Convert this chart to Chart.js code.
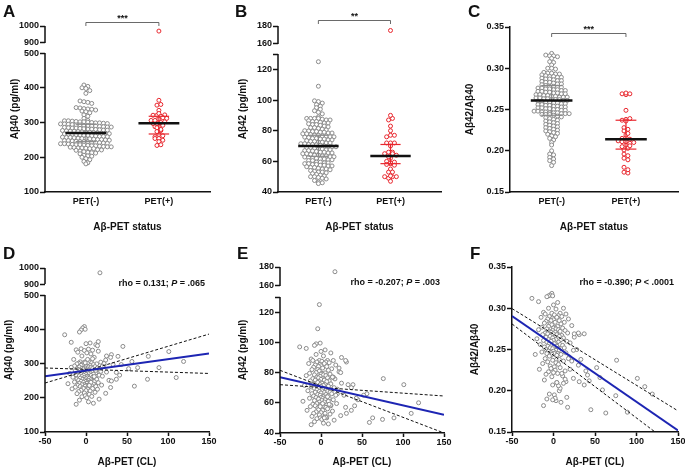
<!DOCTYPE html>
<html>
<head>
<meta charset="utf-8">
<script src="https://cdn.jsdelivr.net/npm/chart.js@4.4.1/dist/chart.umd.min.js"></script>
<style>
  body { margin: 0; background: #fff; width: 685px; height: 474px; position: relative; overflow: hidden; }
  canvas { position: absolute; }
</style>
</head>
<body>
<canvas id="cA" width="228" height="235" style="left:0;top:0"></canvas>
<canvas id="cB" width="227" height="235" style="left:228px;top:0"></canvas>
<canvas id="cC" width="230" height="235" style="left:455px;top:0"></canvas>
<canvas id="cD" width="228" height="239" style="left:0;top:235px"></canvas>
<canvas id="cE" width="227" height="239" style="left:228px;top:235px"></canvas>
<canvas id="cF" width="230" height="239" style="left:455px;top:235px"></canvas>
<script>
// ---- data ----
const groups = ['PET(-)', 'PET(+)'];

// Aβ-PET negative subjects
const negCL = [
  -2, -4, -1, -6, -8, -26, -18, 5, 0, 12,
  -6, 3, -12, 8, -2, 15, -10, 1, 6, -5,
  10, -15, 4, -1, -7, 18, 0, -3, 7, -9,
  2, 13, -11, -4, 9, -2, 22, -6, 5, 1,
  -14, 0, 11, -8, 3, -18, 6, -1, 14, -5,
  8, -3, 2, -10, 17, 0, -7, 4, -13, 10,
  -2, 7, -4, 25, 1, -9, 12, -1, 5, -20,
  3, -6, 9, 0, -12, 16, -3, 6, -8, 2,
  20, -5, 1, -16, 8, -2, 11, -7, 4, 0,
  -11, 13, -4, 6, -1, 28, -9, 3, 7, -6,
  0, 10, -14, 2, -3, 15, 5, -8, 1, -22,
  9, -2, 4, -5, 19, 0, -10, 7, -1, 12,
  -7, 3, -13, 6, 30, -4, 1, 8, -3, -17,
  2, 14, -6, 0, 5, -9, 11, -2, 24, -11,
  4, -1, 7, -5, 1, 16, -8, 3, 9, -12
];
const negAb40 = [
  408, 404, 400, 398, 392, 384, 362, 360, 358, 355,
  343, 342, 340, 339, 338, 336, 333, 331, 328, 322,
  318, 312, 306, 305, 305, 304, 303, 302, 302, 301,
  300, 299, 299, 298, 297, 296, 296, 295, 294, 293,
  293, 292, 291, 290, 290, 289, 288, 287, 287, 286,
  285, 284, 284, 283, 282, 281, 281, 280, 279, 278,
  278, 277, 276, 275, 275, 274, 273, 272, 272, 271,
  270, 269, 269, 268, 267, 266, 266, 265, 264, 263,
  263, 262, 261, 260, 260, 259, 258, 257, 257, 256,
  255, 254, 254, 253, 252, 251, 251, 250, 249, 248,
  248, 247, 246, 245, 245, 244, 243, 242, 242, 241,
  240, 239, 239, 238, 237, 236, 236, 235, 234, 233,
  233, 232, 231, 230, 230, 229, 228, 227, 227, 226,
  225, 225, 222, 221, 220, 218, 216, 214, 213, 212,
  210, 206, 204, 203, 200, 196, 193, 188, 184, 181
];
const negAb42 = [
  125, 109, 99.5, 99, 98, 97, 96, 95, 94, 93,
  92, 91, 89, 88, 88, 88, 88, 87.5, 87, 87,
  86.5, 86, 86, 85.5, 85, 85, 84.5, 84, 84, 83.5,
  83, 82.5, 82, 82, 81.5, 81, 80.5, 80, 79.8, 79.5,
  79.5, 79, 79, 78.5, 78.5, 78, 78, 77.5, 77, 77,
  76.5, 76.5, 76, 76, 75.8, 75.5, 75, 75, 74.5, 74.5,
  74, 74, 73.5, 73, 73, 72.5, 72.5, 72, 72, 71.5,
  71.5, 71, 71, 70.8, 70.5, 70, 70, 69.5, 69.5, 69,
  69, 68.5, 68, 68, 67.5, 67.5, 67, 67, 66.8, 66.5,
  66, 66, 65.5, 65.5, 65, 65, 64.5, 64, 64, 63.5,
  63.5, 63, 63, 62.8, 62.5, 62, 62, 61.5, 61.5, 61,
  61, 60.5, 60.5, 59.5, 59.5, 59, 59, 58.5, 58.5, 58,
  58, 57.5, 57.5, 57, 57, 56.5, 56, 56, 55.5, 55,
  55, 54.5, 54, 53.5, 53, 53, 52.5, 52, 51.5, 51,
  50.5, 50, 50, 49.5, 49, 48.5, 47.5, 46.5, 46, 45.5
];
const negRatio = [
  0.318, 0.316, 0.315, 0.315, 0.314, 0.312, 0.308, 0.307, 0.304, 0.300,
  0.300, 0.299, 0.295, 0.294, 0.294, 0.293, 0.293, 0.292, 0.291, 0.290,
  0.290, 0.289, 0.289, 0.288, 0.287, 0.287, 0.286, 0.285, 0.285, 0.284,
  0.283, 0.283, 0.282, 0.281, 0.281, 0.280, 0.279, 0.278, 0.278, 0.277,
  0.277, 0.276, 0.276, 0.275, 0.275, 0.274, 0.274, 0.273, 0.273, 0.272,
  0.272, 0.271, 0.271, 0.270, 0.270, 0.269, 0.269, 0.268, 0.268, 0.267,
  0.267, 0.266, 0.266, 0.265, 0.265, 0.265, 0.264, 0.264, 0.263, 0.263,
  0.262, 0.262, 0.262, 0.261, 0.261, 0.260, 0.260, 0.259, 0.259, 0.258,
  0.258, 0.257, 0.257, 0.256, 0.256, 0.255, 0.255, 0.254, 0.254, 0.253,
  0.253, 0.252, 0.252, 0.251, 0.251, 0.250, 0.250, 0.249, 0.249, 0.248,
  0.248, 0.247, 0.247, 0.246, 0.246, 0.246, 0.245, 0.245, 0.245, 0.244,
  0.244, 0.244, 0.243, 0.242, 0.241, 0.240, 0.239, 0.238, 0.237, 0.236,
  0.235, 0.234, 0.233, 0.232, 0.231, 0.230, 0.229, 0.228, 0.227, 0.226,
  0.225, 0.224, 0.223, 0.222, 0.221, 0.220, 0.218, 0.217, 0.215, 0.213,
  0.210, 0.207, 0.200, 0.196, 0.195, 0.192, 0.190, 0.188, 0.186, 0.182
];

// Aβ-PET positive subjects
const posCL = [17, 119, 110, 101, 89, 76, 75, 63, 59, 56, 52, 45, 43, 41, 39, 37, 37, 33, 31, 31,
  30, 25, 24, 22, 20, 18, 15, 14, 12, 10, 8, 6, 4, 2, -1];
const posAb40 = [970, 306, 259, 335, 288, 321, 254, 288, 234, 306, 285, 350, 297, 266, 321, 274, 254, 297, 326, 249,
  318, 322, 310, 300, 292, 277, 364, 352, 280, 262, 314, 245, 236, 312, 302];
const posAb42 = [175, 60, 53, 72, 50, 76, 49, 50, 47, 66, 65, 62, 63, 58, 72, 55, 70, 72, 87, 53,
  88, 90, 80, 83, 66, 65, 77, 77, 58.5, 59, 64, 50.5, 50, 59.5, 57.5];
const posRatio = [0.180, 0.196, 0.205, 0.215, 0.174, 0.237, 0.194, 0.173, 0.201, 0.216, 0.228, 0.177, 0.212, 0.219, 0.224, 0.207, 0.269, 0.238, 0.268, 0.211,
  0.270, 0.269, 0.249, 0.236, 0.226, 0.239, 0.211, 0.214, 0.209, 0.221, 0.203, 0.206, 0.210, 0.191, 0.189];

// centre line and error bar per group [PET(-), PET(+)]
const midAb40 = [270, 298], lowAb40 = [245, 267], highAb40 = [295, 318];
const midAb42 = [70, 63.5], lowAb42 = [63.3, 58.5], highAb42 = [77, 71];
const midRatio = [0.261, 0.214], lowRatio = [0.243, 0.202], highRatio = [0.279, 0.237];

// regression line and its 95% band, at CL = -50 and 150
const fitX = [-50, 150];
const fitAb40 = [263, 329], bandAb40a = [287, 271], bandAb40b = [243, 386];
const fitAb42 = [77, 52], bandAb42a = [81.5, 40], bandAb42b = [72, 64.5];
const fitRatio = [0.2906, 0.152], bandRatioA = [0.2996, 0.1756], bandRatioB = [0.281, 0.129];

const rhoAb40 = ['rho = 0.131; ', 'P', ' = .065'];
const rhoAb42 = ['rho = -0.207; ', 'P', ' = .003'];
const rhoRatio = ['rho = -0.390; ', 'P', ' < .0001'];

const ticksAb40 = [100, 200, 300, 400, 500, 900, 1000];
const ticksAb42 = [40, 60, 80, 100, 120, 130, 160, 180];
const ticksRatio = [0.15, 0.20, 0.25, 0.30, 0.35];
const ticksCL = [-50, 0, 50, 100, 150];

// ---- style ----
const INK = '#111', GRAY = '#8a8a8a', RED = '#e8262d', BLUE = '#1d25b3';
const FONT = '"Liberation Sans", Arial, Helvetica, sans-serif';
Chart.defaults.font.family = FONT;
Chart.defaults.font.weight = 'bold';
Chart.defaults.font.size = 9;
Chart.defaults.color = INK;

// broken y axes: lower part, upper part, and where they sit on the axis (0..1)
const breaks = {
  cA: { lo: [100, 500], hi: [900, 1000], split: [0.837, 0.898] },
  cB: { lo: [40, 130], hi: [160, 180], split: [0.831, 0.892] },
  cD: { lo: [100, 500], hi: [900, 1000], split: [0.835, 0.902] },
  cE: { lo: [40, 130], hi: [160, 180], split: [0.819, 0.886] }
};

class BrokenScale extends Chart.LinearScale {
  static id = 'broken';
  static defaults = Chart.LinearScale.defaults;
  getPixelForValue(v) {
    const b = breaks[this.chart.canvas.id];
    let d;
    if (v <= b.lo[1]) d = (v - b.lo[0]) / (b.lo[1] - b.lo[0]) * b.split[0];
    else if (v >= b.hi[0]) d = b.split[1] + (v - b.hi[0]) / (b.hi[1] - b.hi[0]) * (1 - b.split[1]);
    else d = b.split[0] + (v - b.lo[1]) / (b.hi[0] - b.lo[1]) * (b.split[1] - b.split[0]);
    return this.getPixelForDecimal(d);
  }
  getValueForPixel(p) {
    const b = breaks[this.chart.canvas.id];
    const d = this.getDecimalForPixel(p);
    if (d <= b.split[0]) return b.lo[0] + d / b.split[0] * (b.lo[1] - b.lo[0]);
    if (d >= b.split[1]) return b.hi[0] + (d - b.split[1]) / (1 - b.split[1]) * (b.hi[1] - b.hi[0]);
    return b.lo[1] + (d - b.split[0]) / (b.split[1] - b.split[0]) * (b.hi[0] - b.lo[1]);
  }
}
Chart.register(BrokenScale);

function seg(x0, y0, x1, y1, color, width, order, dash) {
  return {
    type: 'line', data: [{ x: x0, y: y0 }, { x: x1, y: y1 }],
    borderColor: color, borderWidth: width, borderDash: dash || [],
    pointRadius: 0, fill: false, order: order
  };
}

function dots(data, color) {
  return {
    type: 'scatter', data: data, order: 3,
    pointRadius: 2, pointHoverRadius: 2, borderWidth: 1,
    borderColor: color, backgroundColor: '#fff'
  };
}

function build(id, o) {
  const brk = breaks[id];
  const extras = {
    id: 'extras',
    afterDraw(chart) {
      const { ctx, chartArea: ca, scales: { x, y } } = chart;
      ctx.save();
      ctx.fillStyle = INK;
      ctx.strokeStyle = INK;
      ctx.textBaseline = 'alphabetic';
      ctx.textAlign = 'left';
      ctx.font = 'bold 17px ' + FONT;
      ctx.fillText(o.letter, o.letterAt[0], o.letterAt[1]);
      if (brk) {
        ctx.lineWidth = 1.5;
        ctx.beginPath();
        ctx.moveTo(ca.left, ca.bottom + 0.75);
        ctx.lineTo(ca.left, y.getPixelForValue(brk.lo[1]));
        ctx.moveTo(ca.left, y.getPixelForValue(brk.hi[0]));
        ctx.lineTo(ca.left, y.getPixelForValue(brk.hi[1]));
        ctx.stroke();
      }
      if (o.bracket) {
        const x1 = x.getPixelForValue(1), x2 = x.getPixelForValue(2);
        const py = Math.round(y.getPixelForValue(o.bracket[0])) + 0.5;
        ctx.lineWidth = 0.8;
        ctx.strokeStyle = '#444';
        ctx.beginPath();
        ctx.moveTo(x1, py + 3.5); ctx.lineTo(x1, py); ctx.lineTo(x2, py); ctx.lineTo(x2, py + 3.5);
        ctx.stroke();
        ctx.font = 'bold 9px ' + FONT;
        ctx.textAlign = 'center';
        ctx.fillText(o.bracket[1], (x1 + x2) / 2, py - 2);
      }
      if (o.rho) {
        const fonts = o.rho.map((t, i) => (i === 1 ? 'italic bold 9px ' : 'bold 9px ') + FONT);
        let w = 0;
        o.rho.forEach((t, i) => { ctx.font = fonts[i]; w += ctx.measureText(t).width; });
        let px = ca.right - 4 - w;
        ctx.textAlign = 'left';
        o.rho.forEach((t, i) => {
          ctx.font = fonts[i];
          ctx.fillText(t, px, ca.top + 18);
          px += ctx.measureText(t).width;
        });
      }
      ctx.restore();
    }
  };

  return new Chart(document.getElementById(id), {
    type: 'scatter',
    data: { datasets: o.datasets },
    options: {
      responsive: false,
      animation: false,
      layout: { padding: { top: o.pad[0], right: o.pad[1], bottom: 0, left: 0 } },
      scales: {
        x: {
          type: 'linear', min: o.x.min, max: o.x.max,
          afterBuildTicks: s => { s.ticks = o.x.ticks.map(v => ({ value: v })); },
          afterFit: s => { s.height = o.xH; s.paddingLeft = 0; s.paddingRight = 0; },
          ticks: { autoSkip: false, maxRotation: 0, padding: 0, callback: o.x.fmt, font: { size: 9, weight: 'bold' } },
          grid: { drawOnChartArea: false, tickLength: 4, tickWidth: 1.5, tickColor: o.x.tickColor },
          border: { display: true, width: 1.5, color: INK },
          title: { display: true, text: o.x.title, color: INK, font: { size: 10, weight: 'bold' }, padding: { top: 0, bottom: o.x.tp } }
        },
        y: {
          type: brk ? 'broken' : 'linear', min: o.y.min, max: o.y.max,
          afterBuildTicks: s => { s.ticks = o.y.ticks.map(v => ({ value: v })); },
          afterFit: s => { s.width = o.yW; },
          ticks: { autoSkip: false, padding: 1, callback: o.y.fmt, font: { size: 9, weight: 'bold' } },
          grid: { drawOnChartArea: false, tickLength: 5, tickWidth: 1.5, tickColor: INK },
          border: { display: !brk, width: 1.5, color: INK },
          title: { display: true, text: o.y.title, color: INK, font: { size: 10, weight: 'bold' }, padding: { top: o.y.tp, bottom: 0 } }
        }
      },
      plugins: { legend: { display: false }, tooltip: { enabled: false } }
    },
    plugins: [extras]
  });
}

// column scatter: points spread sideways in rows so they do not overlap
function swarmPanel(id, o, neg, pos, mid, low, high) {
  const datasets = [];
  [0, 1].forEach(g => {
    const c = g + 1, col = g ? RED : GRAY;
    datasets.push(seg(c - 0.28, mid[g], c + 0.28, mid[g], INK, 2.5, 0));
    datasets.push(seg(c, low[g], c, high[g], col, 1.2, 1));
    datasets.push(seg(c - 0.14, low[g], c + 0.14, low[g], col, 1.2, 1));
    datasets.push(seg(c - 0.14, high[g], c + 0.14, high[g], col, 1.2, 1));
  });
  const sets = [neg, pos].map((vals, g) => {
    const d = dots(vals.map(v => ({ x: g + 1, y: v })), g ? RED : GRAY);
    datasets.push(d);
    return d;
  });
  o.datasets = datasets;
  o.x = {
    min: 0.44, max: 2.70, ticks: [1, 2], fmt: v => groups[v - 1] || '',
    title: 'Aβ-PET status', tp: 2, tickColor: 'rgba(0,0,0,0)'
  };
  o.xH = 43;
  const chart = build(id, o);
  const xs = chart.scales.x, ys = chart.scales.y;
  const ROW = 3.3, COL = 3.9;
  sets.forEach((d, g) => {
    const cx = xs.getPixelForValue(g + 1);
    const rows = new Map();
    d.data.forEach(p => {
      const r = Math.round(ys.getPixelForValue(p.y) / ROW);
      if (!rows.has(r)) rows.set(r, []);
      rows.get(r).push(p);
    });
    rows.forEach(pts => pts.forEach((p, k) => {
      p.x = xs.getValueForPixel(cx + (k - (pts.length - 1) / 2) * COL);
    }));
  });
  chart.update('none');
}

function scatterPanel(id, o, negY, posY, fit, bandA, bandB) {
  const pts = negCL.map((c, i) => ({ x: c, y: negY[i] }))
    .concat(posCL.map((c, i) => ({ x: c, y: posY[i] })));
  o.datasets = [
    seg(fitX[0], fit[0], fitX[1], fit[1], BLUE, 2, 0),
    seg(fitX[0], bandA[0], fitX[1], bandA[1], INK, 1, 1, [3, 2]),
    seg(fitX[0], bandB[0], fitX[1], bandB[1], INK, 1, 1, [3, 2]),
    dots(pts, GRAY)
  ];
  o.x = { min: -50, max: 150, ticks: ticksCL, fmt: v => String(v), title: 'Aβ-PET (CL)', tp: 6, tickColor: INK };
  build(id, o);
}

const fmtInt = v => String(v);
const fmtAb42 = v => (v === 130 ? '' : String(v));
const fmtRatio = v => v.toFixed(2);

swarmPanel('cA', {
  letter: 'A', letterAt: [3, 17], pad: [26, 18], yW: 45,
  bracket: [1025, '***'],
  y: { min: 100, max: 1000, ticks: ticksAb40, fmt: fmtInt, title: 'Aβ40 (pg/ml)', tp: 9.5 }
}, negAb40, posAb40, midAb40, lowAb40, highAb40);

swarmPanel('cB', {
  letter: 'B', letterAt: [7, 17], pad: [26, 14], yW: 50,
  bracket: [187, '**'],
  y: { min: 40, max: 180, ticks: ticksAb42, fmt: fmtAb42, title: 'Aβ42 (pg/ml)', tp: 9 }
}, negAb42, posAb42, midAb42, lowAb42, highAb42);

swarmPanel('cC', {
  letter: 'C', letterAt: [13, 17], pad: [27, 7], yW: 55,
  bracket: [0.343, '***'],
  y: { min: 0.15, max: 0.35, ticks: ticksRatio, fmt: fmtRatio, title: 'Aβ42/Aβ40', tp: 9 }
}, negRatio, posRatio, midRatio, lowRatio, highRatio);

scatterPanel('cD', {
  letter: 'D', letterAt: [3, 24], pad: [33, 19], yW: 45, xH: 42, rho: rhoAb40,
  y: { min: 100, max: 1000, ticks: ticksAb40, fmt: fmtInt, title: 'Aβ40 (pg/ml)', tp: 3 }
}, negAb40, posAb40, fitAb40, bandAb40a, bandAb40b);

scatterPanel('cE', {
  letter: 'E', letterAt: [9, 24], pad: [32, 11], yW: 52, xH: 41, rho: rhoAb42,
  y: { min: 40, max: 180, ticks: ticksAb42, fmt: fmtAb42, title: 'Aβ42 (pg/ml)', tp: 9 }
}, negAb42, posAb42, fitAb42, bandAb42a, bandAb42b);

scatterPanel('cF', {
  letter: 'F', letterAt: [15, 24], pad: [32, 7], yW: 57, xH: 42, rho: rhoRatio,
  y: { min: 0.15, max: 0.35, ticks: ticksRatio, fmt: fmtRatio, title: 'Aβ42/Aβ40', tp: 14 }
}, negRatio, posRatio, fitRatio, bandRatioA, bandRatioB);
</script>
</body>
</html>
